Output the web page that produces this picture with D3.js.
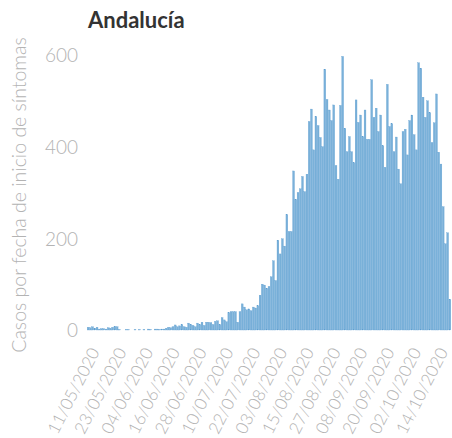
<!DOCTYPE html>
<html>
<head>
  <meta charset="utf-8">
  <title>Andalucía</title>
  <script src="https://d3js.org/d3.v7.min.js"></script>
  <style>
    body { margin: 0; background: #fff; }
    svg text { font-family: Lato, "Open Sans", sans-serif; }
  </style>
</head>
<body>
  <script>
    var width = 452,
        height = 438;

    var title = "Andalucía";
    var yTitle = "Casos por fecha de inicio de síntomas";

    // first day of the series, one bar per day after that
    var firstDay = "06/05/2020";

    var cases = [
      6, 5, 7, 4, 6, 2, 3, 3, 2, 5, 4, 6, 8, 7, 1, 0, 0, 1, 1, 0,
      0, 1, 0, 1, 0, 1, 0, 2, 1, 0, 2, 2, 1, 2, 2, 4, 6, 5,
      7, 11, 7, 9, 12, 7, 6, 15, 12, 10, 7, 15, 12, 17, 10, 17, 17, 16, 12, 19, 20,
      12, 27, 22, 18, 38, 40, 40, 40, 17, 40, 57, 50, 44, 46,
      42, 50, 48, 53, 76, 100, 98, 91, 95, 116, 151, 108, 196, 166, 199, 183,
      252, 215, 215, 347, 285, 300, 308, 335, 302, 340, 455, 482, 393, 466, 446, 420,
      400, 569, 503, 480, 457, 491, 359, 329, 490, 597,
      440, 389, 422, 389, 365, 502, 453, 469, 422, 480,
      416, 416, 546, 464, 484, 433, 469, 402, 355, 536,
      444, 450, 389, 421, 351, 319, 433, 438, 382, 457,
      469, 426, 393, 583, 571, 508, 464, 500, 474, 409,
      452, 515, 388, 362, 269, 188, 212, 67
    ];

    var yTicks = [0, 200, 400, 600];

    var xTickLabels = [
      "11/05/2020", "23/05/2020", "04/06/2020", "16/06/2020", "28/06/2020",
      "10/07/2020", "22/07/2020", "03/08/2020", "15/08/2020", "27/08/2020",
      "08/09/2020", "20/09/2020", "02/10/2020", "14/10/2020"
    ];

    var parse = d3.utcParse("%d/%m/%Y");
    var start = parse(firstDay);
    var days = cases.map(function(v, i) { return d3.utcDay.offset(start, i); });
    var last = days[days.length - 1];

    var svg = d3.select("body")
      .append("svg")
      .attr("width", width)
      .attr("height", height);

    var x = d3.scaleUtc()
      .domain([d3.utcHour.offset(start, -12), d3.utcHour.offset(last, 12)])
      .range([87, 451]);

    var y = d3.scaleLinear()
      .domain([0, 600])
      .range([330, 55]);

    var step = x(d3.utcDay.offset(start, 1)) - x(start);

    // bars
    svg.append("g")
      .selectAll("rect")
      .data(cases)
      .enter()
      .append("rect")
      .attr("x", function(d, i) { return x(days[i]) - step / 2 + 0.2; })
      .attr("width", step - 0.4)
      .attr("y", function(d) { return y(d); })
      .attr("height", function(d) { return y(0) - y(d); })
      .attr("fill", "#7ab1d9")
      .attr("stroke", "#5c9dd0")
      .attr("stroke-width", 0.3);

    // y axis
    var yAxis = svg.append("g")
      .attr("transform", "translate(78,0)")
      .call(d3.axisLeft(y).tickValues(yTicks).tickSize(0).tickPadding(0));
    yAxis.select(".domain").remove();
    yAxis.selectAll("text")
      .attr("dy", "0.36em")
      .style("font-size", "19px")
      .style("font-weight", 300)
      .attr("fill", "#b3b3b3");

    // x axis
    var xAxis = svg.append("g")
      .attr("transform", "translate(0,349)")
      .call(d3.axisBottom(x)
        .tickValues(xTickLabels.map(parse))
        .tickFormat(d3.utcFormat("%d/%m/%Y"))
        .tickSize(0));
    xAxis.select(".domain").remove();
    xAxis.selectAll("text")
      .attr("x", 0)
      .attr("y", 0)
      .attr("dy", "0.35em")
      .attr("transform", "translate(-5,0) rotate(-63)")
      .style("text-anchor", "end")
      .style("font-size", "17px")
      .style("font-weight", 300)
      .attr("fill", "#b3b3b3");

    // titles
    svg.append("text")
      .attr("x", 88)
      .attr("y", 28)
      .style("font-size", "22px")
      .style("font-weight", 700)
      .attr("fill", "#333")
      .text(title);

    svg.append("text")
      .attr("transform", "translate(26,195) rotate(-90)")
      .style("text-anchor", "middle")
      .style("font-size", "19.5px")
      .style("font-weight", 300)
      .attr("fill", "#b3b3b3")
      .text(yTitle);
  </script>
</body>
</html>
